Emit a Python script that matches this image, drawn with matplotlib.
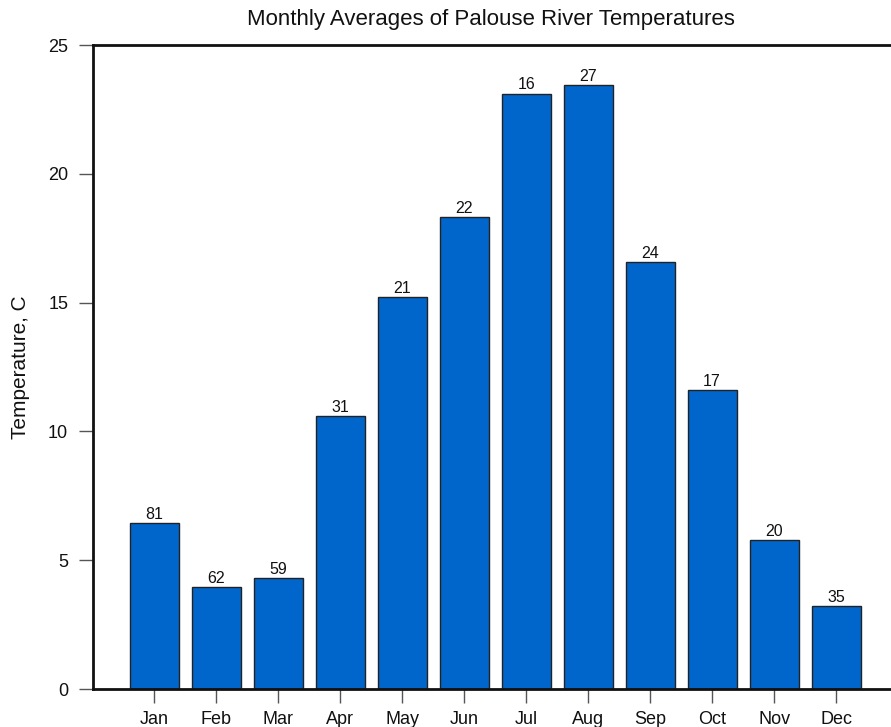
import matplotlib
matplotlib.use("Agg")
import matplotlib.pyplot as plt

months = ["Jan", "Feb", "Mar", "Apr", "May", "Jun", "Jul", "Aug", "Sep", "Oct", "Nov", "Dec"]
temps = [6.44, 3.95, 4.31, 10.60, 15.22, 18.32, 23.11, 23.44, 16.56, 11.61, 5.78, 3.22]
counts = [81, 62, 59, 31, 21, 22, 16, 27, 24, 17, 20, 35]
yticks = [0, 5, 10, 15, 20, 25]

plt.rcParams['font.family'] = ['Liberation Sans', 'DejaVu Sans']

W, H = 891, 727
fig = plt.figure(figsize=(W / 100, H / 100), dpi=100)
left, right, top, bottom = 92.5, 898, 45, 689
ax = fig.add_axes([left / W, 1 - bottom / H, (right - left) / W, (bottom - top) / H])

x = list(range(1, len(months) + 1))
ax.bar(x, temps, width=0.79, color="#0066CC", edgecolor="#222222", linewidth=1.0, zorder=2)
for xi, t, c in zip(x, temps, counts):
    ax.text(xi, t + 0.05, str(c), ha="center", va="bottom", fontsize=11.5, color="#111111")

ax.set_xlim(0, 13)
ax.set_ylim(0, 25)
ax.set_xticks(x)
ax.set_xticklabels(months)
ax.set_yticks(yticks)
ax.tick_params(axis="both", direction="out", length=10, width=1, color="#555555",
               labelsize=13, labelcolor="#111111")
ax.tick_params(axis="x", pad=6)
ax.tick_params(axis="y", pad=7.5)
for s in ["left", "bottom", "top"]:
    ax.spines[s].set_linewidth(2)
    ax.spines[s].set_color("#111111")
ax.spines["right"].set_visible(False)
ax.set_ylabel("Temperature, C", fontsize=15, color="#111111", va="center")
ax.yaxis.set_label_coords((21 - left) / (right - left), 0.5)
fig.text(491 / W, 1 - 20 / H, "Monthly Averages of Palouse River Temperatures",
         ha="center", va="center", fontsize=16, color="#111111")

fig.savefig("out.png", dpi=100)
